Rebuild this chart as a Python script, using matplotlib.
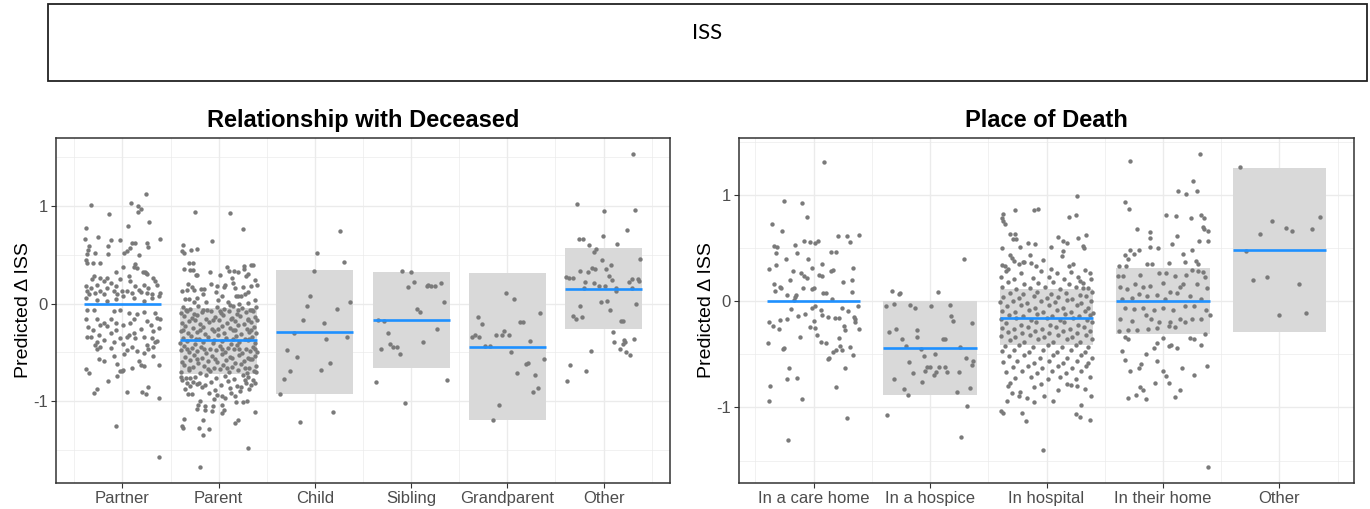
import matplotlib
matplotlib.use("Agg")
import matplotlib.pyplot as plt
from matplotlib.patches import Rectangle

plt.rcParams['font.family'] = ['Liberation Sans', 'DejaVu Sans']

# ---- data ----
rel_cats = ['Partner', 'Parent', 'Child', 'Sibling', 'Grandparent', 'Other']
rel_mean = [0.0, -0.375, -0.29, -0.17, -0.44, 0.155]
rel_lo = [0.0, -0.72, -0.93, -0.66, -1.19, -0.26]
rel_hi = [0.0, -0.045, 0.35, 0.32, 0.31, 0.57]

place_cats = ['In a care home', 'In a hospice', 'In hospital', 'In their home', 'Other']
place_mean = [0.0, -0.443, -0.16, 0.0, 0.48]
place_lo = [0.0, -0.88, -0.415, -0.312, -0.287]
place_hi = [0.0, 0.0, 0.11, 0.313, 1.256]

# jittered individual predictions: (offset from category, value)
partner_pts = [
    (-0.33, 1.01), (0.09, 1.03), (0.25, 1.13), (0.16, 1.00), (0.19, 0.97), (0.16, 0.94), (-0.14, 0.92), (0.28, 0.84),
    (0.06, 0.80), (-0.38, 0.78), (-0.25, 0.68), (-0.39, 0.66), (0.39, 0.66), (-0.12, 0.65), (-0.02, 0.65), (0.10, 0.62),
    (0.13, 0.62), (0.26, 0.62), (-0.15, 0.59), (-0.35, 0.59), (-0.36, 0.55), (0.08, 0.57), (0.27, 0.58), (0.05, 0.54),
    (0.02, 0.52), (-0.37, 0.51), (-0.28, 0.52), (-0.15, 0.51), (0.17, 0.50), (-0.38, 0.45), (-0.37, 0.42), (-0.31, 0.42),
    (-0.23, 0.42), (0.13, 0.41), (0.12, 0.38), (0.15, 0.37), (0.01, 0.38), (0.23, 0.33), (0.25, 0.31), (0.26, 0.30),
    (0.21, 0.33), (-0.07, 0.33), (-0.30, 0.28), (-0.32, 0.25), (-0.23, 0.26), (-0.16, 0.26), (-0.19, 0.23), (0.32, 0.26),
    (0.34, 0.23), (0.36, 0.19), (0.07, 0.28), (0.08, 0.23), (-0.02, 0.25), (-0.12, 0.21), (-0.07, 0.18), (-0.16, 0.16),
    (-0.26, 0.19), (-0.33, 0.16), (-0.38, 0.18), (0.13, 0.18), (0.17, 0.14), (0.22, 0.19), (0.27, 0.16), (0.39, 0.11),
    (0.38, 0.08), (-0.37, 0.13), (-0.35, 0.10), (-0.28, 0.11), (-0.23, 0.13), (-0.19, 0.10), (-0.09, 0.13), (-0.06, 0.10),
    (0.00, 0.13), (0.05, 0.13), (0.10, 0.11), (0.19, 0.12), (0.26, 0.11), (0.31, 0.10), (-0.38, 0.06), (-0.26, 0.04),
    (-0.16, 0.03), (-0.07, 0.05), (0.01, 0.08), (0.12, 0.06), (0.22, 0.03), (0.31, 0.06), (-0.37, -0.06), (-0.30, -0.06),
    (-0.09, -0.08), (-0.02, -0.06), (0.07, -0.10), (0.15, -0.11), (0.22, -0.09), (0.34, -0.10), (-0.38, -0.16),
    (-0.26, -0.16), (-0.19, -0.20), (-0.12, -0.16), (0.12, -0.16), (0.26, -0.18), (0.36, -0.15), (-0.36, -0.24),
    (-0.31, -0.27), (-0.23, -0.22), (-0.16, -0.23), (-0.07, -0.20), (0.01, -0.22), (0.08, -0.20), (0.19, -0.26),
    (0.30, -0.22), (0.39, -0.16), (-0.33, -0.34), (-0.24, -0.32), (-0.12, -0.30), (-0.07, -0.27), (0.05, -0.34),
    (0.12, -0.30), (0.22, -0.34), (0.32, -0.28), (0.38, -0.25), (-0.37, -0.34), (-0.26, -0.39), (-0.19, -0.37),
    (-0.09, -0.39), (-0.02, -0.35), (0.07, -0.32), (0.13, -0.35), (0.31, -0.35), (0.36, -0.38), (-0.28, -0.42),
    (-0.23, -0.44), (-0.12, -0.45), (0.01, -0.41), (0.10, -0.44), (0.26, -0.42), (0.34, -0.39), (-0.26, -0.47),
    (-0.09, -0.54), (0.05, -0.48), (0.15, -0.49), (0.22, -0.51), (0.27, -0.46), (0.32, -0.44), (-0.24, -0.57),
    (-0.19, -0.59), (0.02, -0.52), (0.32, -0.54), (0.19, -0.63), (0.17, -0.59), (-0.38, -0.67), (-0.35, -0.71),
    (-0.06, -0.62), (-0.02, -0.69), (0.01, -0.68), (0.22, -0.64), (0.38, -0.63), (-0.15, -0.79), (-0.06, -0.74),
    (0.00, -0.69), (0.10, -0.66), (-0.30, -0.92), (-0.26, -0.88), (0.05, -0.91), (0.20, -0.91), (0.24, -0.93),
    (0.38, -0.97), (0.27, -0.85), (-0.07, -1.25), (0.38, -1.57),
]

parent_pts = [
    (-0.25, 0.94), (0.12, 0.93), (0.25, 0.77), (-0.07, 0.64), (-0.37, 0.60), (-0.38, 0.54), (-0.36, 0.52), (-0.29, 0.55),
    (-0.23, 0.56), (-0.31, 0.42), (-0.27, 0.42), (-0.36, 0.36), (-0.30, 0.35), (-0.27, 0.35), (-0.24, 0.29), (-0.22, 0.29),
    (-0.09, 0.32), (0.01, 0.29), (0.09, 0.38), (0.11, 0.34), (0.16, 0.34), (0.20, 0.32), (0.26, 0.39), (0.26, 0.36),
    (0.34, 0.40), (0.36, 0.40), (0.28, 0.28), (0.31, 0.30), (0.38, 0.24), (0.40, 0.19), (0.34, 0.18), (0.14, 0.26),
    (0.15, 0.21), (0.07, 0.19), (0.06, 0.17), (-0.32, 0.20), (-0.28, 0.17), (-0.26, 0.14), (-0.38, 0.13), (-0.33, 0.14),
    (-0.18, 0.15), (-0.15, 0.15), (-0.16, 0.10), (-0.08, 0.20), (-0.02, 0.18), (-0.03, 0.12), (0.04, 0.08), (0.17, 0.16),
    (0.25, 0.17), (0.30, 0.12), (0.18, 0.08), (0.20, 0.08), (0.23, 0.08), (0.27, 0.10), (0.38, 0.04), (-0.35, 0.05),
    (-0.31, 0.05), (-0.26, 0.02), (-0.22, 0.06), (-0.13, 0.02), (-0.01, 0.04), (0.10, 0.02), (0.12, -0.01), (0.21, 0.00),
    (0.31, 0.01),
    (-0.37, -0.03), (-0.30, -0.05), (-0.21, -0.02), (-0.12, -0.06), (-0.02, -0.03), (0.06, -0.05), (0.15, -0.02),
    (0.24, -0.04), (0.33, -0.06), (0.39, -0.03), (-0.34, -0.065), (-0.16, -0.06), (0.01, -0.07), (0.20, -0.06),
    (0.35, -0.065),
    (-0.39, -0.10), (-0.33, -0.08), (-0.26, -0.11), (-0.17, -0.09), (-0.08, -0.07), (0.02, -0.10), (0.11, -0.08),
    (0.19, -0.11), (0.28, -0.09), (0.36, -0.07),
    (-0.36, -0.13), (-0.28, -0.15), (-0.22, -0.12), (-0.13, -0.16), (-0.04, -0.14), (0.05, -0.12), (0.14, -0.15),
    (0.22, -0.13), (0.31, -0.16), (0.38, -0.14), (-0.25, -0.165), (-0.06, -0.17), (0.13, -0.16), (0.30, -0.165),
    (-0.38, -0.20), (-0.31, -0.18), (-0.19, -0.21), (-0.10, -0.19), (0.00, -0.17), (0.09, -0.20), (0.17, -0.18),
    (0.26, -0.21), (0.34, -0.19), (0.40, -0.17),
    (-0.35, -0.23), (-0.27, -0.25), (-0.16, -0.24), (-0.07, -0.26), (0.03, -0.23), (0.12, -0.25), (0.20, -0.22),
    (0.29, -0.26), (0.37, -0.24), (-0.37, -0.265), (-0.19, -0.27), (-0.01, -0.26), (0.17, -0.265), (0.34, -0.27),
    (-0.39, -0.28), (-0.32, -0.30), (-0.23, -0.29), (-0.14, -0.31), (-0.05, -0.28), (0.06, -0.30), (0.15, -0.27),
    (0.23, -0.31), (0.32, -0.29), (0.39, -0.30),
    (-0.37, -0.35), (-0.29, -0.33), (-0.20, -0.36), (-0.11, -0.34), (-0.01, -0.32), (0.08, -0.35), (0.18, -0.33),
    (0.27, -0.36), (0.35, -0.34), (-0.24, -0.365), (-0.05, -0.37), (0.15, -0.36), (0.32, -0.365),
    (-0.40, -0.40), (-0.33, -0.38), (-0.25, -0.41), (-0.16, -0.39), (-0.06, -0.40), (0.04, -0.38), (0.13, -0.41),
    (0.21, -0.39), (0.30, -0.37), (0.38, -0.40),
    (-0.36, -0.43), (-0.28, -0.45), (-0.18, -0.44), (-0.09, -0.46), (0.01, -0.43), (0.10, -0.45), (0.19, -0.42),
    (0.28, -0.46), (0.36, -0.44), (-0.33, -0.465), (-0.15, -0.47), (0.04, -0.46), (0.21, -0.465), (0.38, -0.47),
    (-0.39, -0.48), (-0.31, -0.50), (-0.22, -0.49), (-0.13, -0.51), (-0.03, -0.48), (0.07, -0.50), (0.16, -0.47),
    (0.24, -0.51), (0.33, -0.49), (0.40, -0.50),
    (-0.35, -0.55), (-0.26, -0.53), (-0.17, -0.56), (-0.07, -0.54), (0.03, -0.52), (0.12, -0.55), (0.21, -0.53),
    (0.30, -0.56), (0.38, -0.54), (-0.22, -0.565), (-0.04, -0.57), (0.14, -0.56), (0.33, -0.565),
    (-0.38, -0.60), (-0.30, -0.58), (-0.21, -0.61), (-0.11, -0.59), (-0.02, -0.60), (0.08, -0.58), (0.17, -0.61),
    (0.26, -0.59), (0.35, -0.57),
    (-0.36, -0.63), (-0.27, -0.65), (-0.15, -0.64), (-0.05, -0.66), (0.05, -0.63), (0.14, -0.65), (0.23, -0.62),
    (0.32, -0.66), (0.39, -0.64), (-0.31, -0.665), (-0.11, -0.67), (0.09, -0.66), (0.27, -0.665),
    (-0.39, -0.70), (-0.31, -0.68), (-0.19, -0.71), (-0.09, -0.69), (0.01, -0.67), (0.11, -0.70), (0.20, -0.68),
    (0.29, -0.71), (0.37, -0.69),
    (-0.25, -0.75), (-0.13, -0.73), (-0.03, -0.76), (0.07, -0.74), (0.16, -0.77), (0.25, -0.73),
    (-0.39, -0.75), (-0.34, -0.76), (-0.30, -0.76), (-0.27, -0.80), (-0.33, -0.81), (-0.38, -0.78), (-0.08, -0.80),
    (0.02, -0.83), (0.10, -0.79), (0.19, -0.84), (0.27, -0.78), (-0.30, -0.84), (0.38, -0.81), (-0.35, -0.88),
    (0.12, -0.87), (-0.32, -0.93), (-0.28, -0.93), (-0.23, -0.82), (-0.20, -0.81), (-0.17, -0.86), (-0.14, -0.83),
    (-0.10, -0.92), (-0.04, -0.89), (-0.05, -0.98), (-0.02, -0.94), (0.04, -0.95), (0.07, -0.97), (0.13, -0.92),
    (0.17, -0.95), (0.22, -0.90), (0.23, -0.85), (0.28, -0.81), (0.32, -0.88), (0.34, -0.83), (0.39, -0.70),
    (0.36, -0.78), (0.30, -0.75), (0.18, -1.01), (0.25, -1.01), (0.29, -1.00), (-0.19, -1.00), (-0.21, -1.04),
    (-0.22, -1.08), (-0.14, -1.05), (-0.14, -1.09), (-0.06, -1.05), (-0.07, -1.10), (0.03, -1.04), (0.06, -1.09),
    (0.03, -1.12), (0.38, -1.11), (-0.36, -1.18), (-0.38, -1.26), (-0.37, -1.28), (-0.16, -1.19), (0.20, -1.19),
    (0.17, -1.22), (-0.20, -1.28), (-0.10, -1.29), (-0.16, -1.35), (0.30, -1.48), (-0.19, -1.68),
]

child_pts = [
    (0.26, 0.75), (0.02, 0.52), (0.30, 0.43), (-0.01, 0.34), (-0.05, 0.08), (0.37, 0.02), (-0.08, -0.02), (0.23, -0.05),
    (-0.12, -0.17), (0.09, -0.20), (-0.22, -0.30), (0.12, -0.36), (0.33, -0.34), (-0.29, -0.48), (-0.19, -0.55),
    (0.16, -0.61), (0.06, -0.68), (-0.26, -0.69), (-0.32, -0.77), (-0.36, -0.93), (0.19, -1.11), (-0.15, -1.21),
]

sibling_pts = [
    (-0.09, 0.34), (0.00, 0.32), (0.03, 0.22), (-0.03, 0.17), (0.16, 0.18), (0.18, 0.19), (0.21, 0.18), (0.25, 0.18),
    (0.31, 0.21), (0.34, 0.02), (0.06, -0.05), (0.09, -0.09), (-0.34, -0.17), (-0.28, -0.18), (0.27, -0.26),
    (-0.24, -0.30), (-0.22, -0.41), (-0.19, -0.44), (-0.15, -0.44), (-0.31, -0.46), (-0.12, -0.52), (0.12, -0.39),
    (-0.37, -0.80), (0.37, -0.78), (-0.06, -1.02),
]

grandparent_pts = [
    (-0.01, 0.11), (0.07, 0.05), (0.34, -0.10), (-0.31, -0.14), (-0.26, -0.21), (0.13, -0.19), (0.16, -0.19),
    (-0.37, -0.34), (-0.34, -0.32), (-0.29, -0.34), (-0.12, -0.32), (-0.06, -0.32), (-0.04, -0.28), (0.02, -0.32),
    (-0.23, -0.43), (-0.18, -0.43), (0.24, -0.38), (0.04, -0.50), (0.19, -0.62), (0.21, -0.61), (0.38, -0.57),
    (0.10, -0.71), (0.29, -0.73), (0.27, -0.91), (0.32, -0.87), (-0.09, -1.04), (-0.15, -1.19),
]

rel_other_pts = [
    (0.31, 1.54), (-0.28, 1.02), (0.00, 0.95), (0.33, 0.96), (0.24, 0.76), (-0.01, 0.69), (-0.26, 0.66), (-0.21, 0.66),
    (-0.15, 0.60), (0.14, 0.61), (-0.08, 0.56), (-0.10, 0.53), (-0.02, 0.45), (0.38, 0.46), (0.08, 0.40), (0.03, 0.36),
    (-0.25, 0.34), (-0.16, 0.33), (-0.12, 0.37), (-0.09, 0.36), (0.06, 0.28), (0.09, 0.24), (-0.39, 0.27),
    (-0.36, 0.26), (-0.32, 0.26), (-0.19, 0.22), (-0.10, 0.21), (-0.05, 0.18), (0.01, 0.18), (0.26, 0.22),
    (0.29, 0.25), (0.36, 0.25), (0.37, 0.23), (0.13, 0.16), (0.13, 0.13), (0.29, 0.16), (-0.20, 0.16), (0.04, 0.03),
    (-0.03, 0.02), (-0.24, -0.02), (0.34, 0.00), (0.07, -0.06), (-0.32, -0.13), (-0.29, -0.16), (-0.22, -0.14),
    (0.18, -0.18), (0.20, -0.18), (0.10, -0.29), (0.11, -0.39), (0.21, -0.37), (0.22, -0.39), (0.20, -0.41),
    (0.32, -0.36), (0.17, -0.46), (0.23, -0.50), (0.27, -0.53), (-0.13, -0.49), (-0.35, -0.63), (-0.18, -0.69),
    (-0.38, -0.79),
]

carehome_pts = [
    (0.09, 1.31), (-0.25, 0.94), (-0.10, 0.92), (-0.06, 0.79), (-0.36, 0.73), (-0.27, 0.66), (0.21, 0.61), (0.29, 0.61),
    (0.31, 0.56), (0.39, 0.62), (-0.08, 0.57), (-0.03, 0.56), (0.01, 0.55), (0.04, 0.57), (-0.34, 0.52), (-0.31, 0.51),
    (-0.16, 0.53), (0.15, 0.46), (0.19, 0.46), (-0.32, 0.45), (-0.14, 0.45), (-0.24, 0.40), (-0.05, 0.40), (0.07, 0.35),
    (-0.32, 0.34), (-0.38, 0.30), (-0.18, 0.28), (-0.11, 0.26), (-0.08, 0.24), (-0.06, 0.22), (-0.01, 0.31),
    (0.34, 0.31), (0.15, 0.28), (0.17, 0.29), (0.05, 0.25), (0.07, 0.24), (-0.20, 0.20), (0.25, 0.18), (0.33, 0.20),
    (-0.34, 0.16), (-0.29, 0.13), (-0.28, 0.12), (-0.33, 0.10), (-0.09, 0.12), (-0.01, 0.11), (0.00, 0.12),
    (0.08, 0.08), (0.11, 0.08), (-0.23, 0.06), (-0.15, 0.06), (-0.16, 0.04), (-0.17, 0.01), (0.33, 0.09), (0.16, 0.02),
    (-0.19, -0.07), (-0.01, -0.06), (0.01, -0.05), (0.06, -0.08), (0.24, -0.06), (0.30, -0.09), (0.38, -0.05),
    (-0.13, -0.14), (-0.07, -0.12), (0.07, -0.13), (0.12, -0.15), (0.18, -0.16), (0.22, -0.16), (0.26, -0.23),
    (0.35, -0.15), (0.36, -0.17), (0.36, -0.20), (-0.38, -0.20), (-0.35, -0.23), (-0.29, -0.18), (-0.23, -0.17),
    (-0.30, -0.26), (0.00, -0.19), (0.01, -0.25), (-0.03, -0.24), (0.39, -0.26), (0.03, -0.32), (-0.12, -0.34),
    (0.22, -0.35), (0.27, -0.27), (-0.39, -0.39), (0.06, -0.38), (0.11, -0.39), (0.23, -0.42), (0.24, -0.46),
    (0.19, -0.46), (0.17, -0.48), (0.13, -0.53), (0.12, -0.54), (0.31, -0.43), (-0.26, -0.45), (-0.25, -0.44),
    (0.34, -0.51), (-0.21, -0.63), (0.27, -0.63), (-0.23, -0.73), (-0.14, -0.72), (-0.37, -0.80), (0.19, -0.81),
    (-0.10, -0.92), (-0.38, -0.94), (0.29, -1.10), (-0.22, -1.31),
]

hospice_pts = [
    (0.29, 0.40), (-0.33, 0.10), (-0.27, 0.07), (-0.26, 0.08), (0.07, 0.09), (-0.38, -0.05), (-0.31, -0.03),
    (-0.17, -0.04), (-0.13, -0.06), (0.01, -0.05), (0.17, -0.04), (0.18, -0.14), (0.20, -0.19), (0.36, -0.21),
    (-0.35, -0.29), (-0.29, -0.26), (-0.11, -0.27), (-0.24, -0.36), (-0.11, -0.34), (-0.21, -0.42), (0.11, -0.36),
    (0.13, -0.36), (-0.08, -0.45), (-0.05, -0.52), (0.04, -0.50), (0.26, -0.43), (0.31, -0.53), (0.37, -0.56),
    (0.36, -0.60), (-0.18, -0.57), (-0.03, -0.62), (0.00, -0.62), (-0.04, -0.66), (0.08, -0.62), (0.13, -0.62),
    (0.05, -0.67), (0.03, -0.69), (0.25, -0.67), (-0.15, -0.68), (0.15, -0.67), (-0.31, -0.73), (-0.07, -0.76),
    (-0.22, -0.83), (-0.19, -0.88), (0.23, -0.85), (0.34, -0.82), (-0.37, -1.07), (0.32, -0.99), (0.27, -1.28),
]

hospital_pts = [
    (-0.27, 0.86), (-0.37, 0.82), (-0.38, 0.78), (-0.37, 0.75), (-0.36, 0.73), (-0.31, 0.63), (-0.27, 0.63),
    (-0.29, 0.58), (-0.26, 0.58), (-0.23, 0.51), (-0.38, 0.50), (-0.31, 0.43), (-0.30, 0.41), (-0.28, 0.38),
    (-0.24, 0.35), (-0.20, 0.37), (-0.38, 0.34), (-0.36, 0.33), (-0.33, 0.30), (-0.13, 0.36), (-0.16, 0.55),
    (-0.11, 0.86), (-0.07, 0.87), (0.26, 0.99), (0.19, 0.79), (0.25, 0.81), (0.34, 0.62), (0.27, 0.59), (0.10, 0.60),
    (0.14, 0.57), (0.18, 0.55), (0.31, 0.52), (0.32, 0.50), (-0.10, 0.54), (0.04, 0.51), (0.14, 0.47), (0.13, 0.42),
    (-0.14, 0.43), (-0.03, 0.39), (-0.19, 0.37), (0.04, 0.30), (-0.09, 0.33), (0.37, 0.26), (0.19, 0.33),
    (0.23, 0.35), (0.29, 0.19), (0.31, 0.17),
    (-0.35, 0.28), (-0.22, 0.26), (-0.05, 0.28), (0.09, 0.26), (0.21, 0.27), (0.33, 0.29),
    (-0.39, 0.23), (-0.28, 0.21), (-0.12, 0.22), (0.02, 0.23), (0.15, 0.21), (0.27, 0.23), (0.38, 0.21),
    (-0.33, 0.18), (-0.19, 0.16), (-0.07, 0.17), (0.06, 0.18), (0.19, 0.16), (0.31, 0.12),
    (-0.38, 0.13), (-0.26, 0.11), (-0.14, 0.12), (-0.01, 0.13), (0.12, 0.11), (0.25, 0.13), (0.36, 0.12),
    (-0.31, 0.08), (-0.20, 0.07), (-0.08, 0.09), (0.04, 0.07), (0.17, 0.08), (0.29, 0.06), (0.39, 0.09),
    (-0.37, 0.04), (-0.24, 0.03), (-0.11, 0.05), (0.00, 0.03), (0.10, 0.04), (0.22, 0.02), (0.34, 0.05),
    (-0.40, -0.01), (-0.29, 0.00), (-0.17, -0.02), (-0.05, 0.00), (0.07, -0.01), (0.18, 0.01), (0.30, -0.02),
    (0.38, 0.00), (-0.34, -0.05), (-0.22, -0.04), (-0.10, -0.06), (0.02, -0.04), (0.14, -0.06), (0.26, -0.04),
    (0.36, -0.06), (-0.38, -0.09), (-0.27, -0.10), (-0.15, -0.08), (-0.03, -0.10), (0.09, -0.08), (0.21, -0.10),
    (0.33, -0.09), (0.40, -0.11), (-0.32, -0.13), (-0.20, -0.14), (-0.08, -0.12), (0.05, -0.14), (0.16, -0.12),
    (0.28, -0.14), (0.37, -0.13), (-0.39, -0.17), (-0.26, -0.16), (-0.13, -0.18), (0.00, -0.16), (0.12, -0.18),
    (0.23, -0.16), (0.35, -0.18), (-0.35, -0.21), (-0.22, -0.22), (-0.09, -0.20), (0.03, -0.22), (0.15, -0.20),
    (0.27, -0.22), (0.39, -0.20), (-0.38, -0.25), (-0.28, -0.26), (-0.16, -0.24), (-0.04, -0.26), (0.08, -0.24),
    (0.20, -0.26), (0.32, -0.24), (-0.33, -0.29), (-0.21, -0.30), (-0.10, -0.28), (0.02, -0.30), (0.14, -0.28),
    (0.26, -0.30), (0.37, -0.28), (-0.39, -0.33), (-0.27, -0.34), (-0.14, -0.32), (-0.02, -0.34), (0.10, -0.32),
    (0.22, -0.34), (0.34, -0.32), (-0.31, -0.37), (-0.19, -0.38), (-0.07, -0.36), (0.06, -0.38), (0.18, -0.36),
    (0.29, -0.38), (0.39, -0.36), (-0.36, -0.42), (-0.24, -0.41), (-0.12, -0.43), (0.01, -0.41), (0.13, -0.43),
    (0.25, -0.41), (0.36, -0.43), (-0.38, -0.47), (-0.28, -0.46), (-0.15, -0.48), (-0.03, -0.46), (0.09, -0.48),
    (0.21, -0.46), (0.33, -0.48), (-0.32, -0.52), (-0.19, -0.51), (-0.06, -0.53), (0.06, -0.51), (0.18, -0.53),
    (0.30, -0.51), (0.39, -0.53), (-0.37, -0.57), (-0.25, -0.56), (-0.11, -0.58), (0.02, -0.56), (0.14, -0.58),
    (0.26, -0.56), (0.36, -0.58), (-0.29, -0.62), (-0.16, -0.61), (-0.04, -0.63), (0.10, -0.61), (0.22, -0.63),
    (0.34, -0.61), (-0.35, -0.67), (-0.21, -0.66), (-0.08, -0.68), (0.05, -0.66), (0.17, -0.68), (0.30, -0.66),
    (-0.27, -0.72), (-0.13, -0.71), (0.01, -0.73), (0.12, -0.71), (0.25, -0.73), (0.37, -0.71),
    (-0.03, -1.40), (-0.18, -1.13), (-0.21, -1.05), (0.25, -1.06), (0.29, -1.09), (0.37, -1.12), (0.30, -0.98),
    (0.38, -0.89), (-0.11, -0.95), (0.06, -0.94), (-0.02, -0.89), (0.18, -0.78), (0.21, -0.79), (0.26, -0.80),
    (-0.30, -0.86), (-0.23, -0.85), (-0.17, -0.91), (-0.37, -1.05), (-0.39, -1.03), (-0.34, -0.94), (-0.24, -0.89),
    (-0.11, -0.81), (-0.33, -0.80), (-0.31, -0.77), (0.10, -0.84), (0.33, -0.83), (-0.05, -0.78),
]

theirhome_pts = [
    (-0.28, 1.32), (0.32, 1.38), (0.26, 1.13), (0.13, 1.04), (0.20, 1.01), (0.29, 1.04), (-0.33, 0.93), (-0.29, 0.87),
    (0.03, 0.81), (0.11, 0.80), (0.24, 0.78), (0.33, 0.81), (0.35, 0.78), (0.34, 0.70), (0.35, 0.68), (0.39, 0.66),
    (-0.22, 0.68), (-0.11, 0.65), (-0.11, 0.59), (0.12, 0.61), (0.39, 0.57), (0.31, 0.57), (0.08, 0.54), (-0.28, 0.48),
    (-0.21, 0.48), (-0.11, 0.51), (-0.04, 0.50), (0.25, 0.48), (-0.33, 0.43), (-0.30, 0.40), (-0.25, 0.44),
    (0.17, 0.44), (0.19, 0.37), (0.28, 0.38), (0.30, 0.35), (-0.14, 0.35), (-0.09, 0.35), (0.05, 0.36), (-0.38, 0.33),
    (-0.32, 0.33),
    (-0.39, 0.24), (-0.34, 0.24), (-0.20, 0.25), (-0.03, 0.26), (0.03, 0.26), (0.10, 0.24), (0.20, 0.25), (0.25, 0.29),
    (0.30, 0.28), (0.34, 0.27), (-0.37, 0.13), (-0.31, 0.11), (-0.24, 0.16), (-0.17, 0.13), (-0.11, 0.14),
    (0.00, 0.17), (0.06, 0.09), (0.15, 0.13), (0.17, 0.16), (0.29, 0.16), (0.36, 0.23), (0.38, 0.12), (-0.35, 0.02),
    (-0.27, 0.03), (-0.21, 0.07), (-0.14, 0.05), (-0.05, 0.06), (0.02, 0.02), (0.12, 0.08), (0.23, 0.05), (0.33, 0.02),
    (-0.33, -0.06), (-0.25, -0.07), (-0.17, -0.06), (-0.08, -0.08), (0.00, -0.06), (0.09, -0.08), (0.19, -0.05),
    (0.27, -0.05), (0.37, -0.08), (-0.37, -0.17), (-0.27, -0.19), (-0.15, -0.13), (-0.10, -0.17), (-0.03, -0.20),
    (0.06, -0.20), (0.15, -0.17), (0.25, -0.17), (0.33, -0.17), (0.40, -0.13), (-0.38, -0.28), (-0.30, -0.27),
    (-0.22, -0.27), (-0.13, -0.26), (-0.05, -0.25), (0.05, -0.23), (0.10, -0.24), (0.19, -0.20), (0.27, -0.36),
    (0.36, -0.31),
    (-0.33, -0.34), (-0.35, -0.47), (-0.30, -0.36), (-0.08, -0.44), (-0.05, -0.39), (0.00, -0.35), (0.07, -0.41),
    (0.12, -0.44), (0.05, -0.42), (0.23, -0.35), (0.33, -0.41), (-0.15, -0.50), (-0.33, -0.55), (-0.28, -0.66),
    (-0.19, -0.59), (-0.21, -0.63), (-0.05, -0.56), (0.00, -0.66), (0.03, -0.70), (0.16, -0.63), (0.27, -0.69),
    (0.38, -0.61), (-0.07, -0.77), (0.05, -0.77), (-0.20, -0.81), (-0.17, -0.84), (-0.15, -0.92), (-0.23, -0.88),
    (-0.30, -0.91), (0.10, -0.90), (0.15, -0.84), (0.39, -1.56),
]

place_other_pts = [
    (-0.34, 1.26), (-0.06, 0.75), (0.06, 0.69), (0.11, 0.66), (-0.17, 0.63), (0.28, 0.68), (0.35, 0.79),
    (-0.29, 0.47), (-0.23, 0.20), (-0.11, 0.23), (0.17, 0.16), (0.00, -0.13), (0.23, -0.11),
]

rel_points = [partner_pts, parent_pts, child_pts, sibling_pts, grandparent_pts, rel_other_pts]
place_points = [carehome_pts, hospice_pts, hospital_pts, theirhome_pts, place_other_pts]

# ---- styling ----
BOX = '#D9D9D9'
DOT = '#7A7A7A'
BLUE = '#1E90FF'
GRID = '#EBEBEB'
BORDER = '#333333'


def panel(ax, cats, mean, lo, hi, points, title, ylim):
    n = len(cats)
    pos = list(range(1, n + 1))
    ax.bar(pos, [h - l for h, l in zip(hi, lo)], bottom=lo, width=0.8, color=BOX, zorder=2)
    for p, pts in zip(pos, points):
        ax.scatter([p + d for d, _ in pts], [v for _, v in pts], s=10, color=DOT,
                   linewidths=0, zorder=3)
    ax.hlines(mean, [p - 0.4 for p in pos], [p + 0.4 for p in pos], color=BLUE, lw=1.9, zorder=4)

    ax.set_xlim(0.6 - 0.05 * (n - 0.2), n + 0.4 + 0.05 * (n - 0.2))
    ax.set_ylim(*ylim)
    ax.set_xticks(pos)
    ax.set_xticklabels(cats)
    ax.set_xticks([p + 0.5 for p in range(0, n + 1)], minor=True)
    ax.set_yticks([-1, 0, 1])
    ax.set_yticklabels(['-1', '0', '1'])
    ax.set_yticks([-1.5, -0.5, 0.5, 1.5], minor=True)
    ax.grid(which='major', color=GRID, lw=1.0, zorder=0)
    ax.grid(which='minor', color=GRID, lw=0.5, zorder=0)
    ax.set_axisbelow(True)
    ax.tick_params(which='major', length=3.5, width=0.8, color=BORDER, labelcolor='#4D4D4D',
                   labelsize=12, pad=2.5)
    ax.tick_params(which='minor', length=0)
    for s in ax.spines.values():
        s.set_color(BORDER)
        s.set_linewidth(1.1)
    ax.set_ylabel('Predicted \u0394 ISS', fontsize=14, labelpad=1)
    ax.set_title(title, fontsize=17, fontweight='bold', pad=8)


fig = plt.figure(figsize=(13.7, 5.09), dpi=100)

# header box
fig.patches.append(Rectangle((48 / 1370, 1 - 81 / 509), 1319 / 1370, 76.5 / 509,
                             transform=fig.transFigure, fill=False, edgecolor='#222222', lw=1.3))
fig.text(707 / 1370, 1 - 33 / 509, 'ISS', ha='center', va='center', fontsize=16, family=['Lato', 'DejaVu Sans'])

ax1 = fig.add_axes([56 / 1370, 26 / 509, 614 / 1370, 345 / 509])
panel(ax1, rel_cats, rel_mean, rel_lo, rel_hi, rel_points, 'Relationship with Deceased', (-1.84, 1.70))

ax2 = fig.add_axes([739 / 1370, 26 / 509, 615 / 1370, 345 / 509])
panel(ax2, place_cats, place_mean, place_lo, place_hi, place_points, 'Place of Death', (-1.71, 1.534))

fig.savefig('out.png', dpi=100)
